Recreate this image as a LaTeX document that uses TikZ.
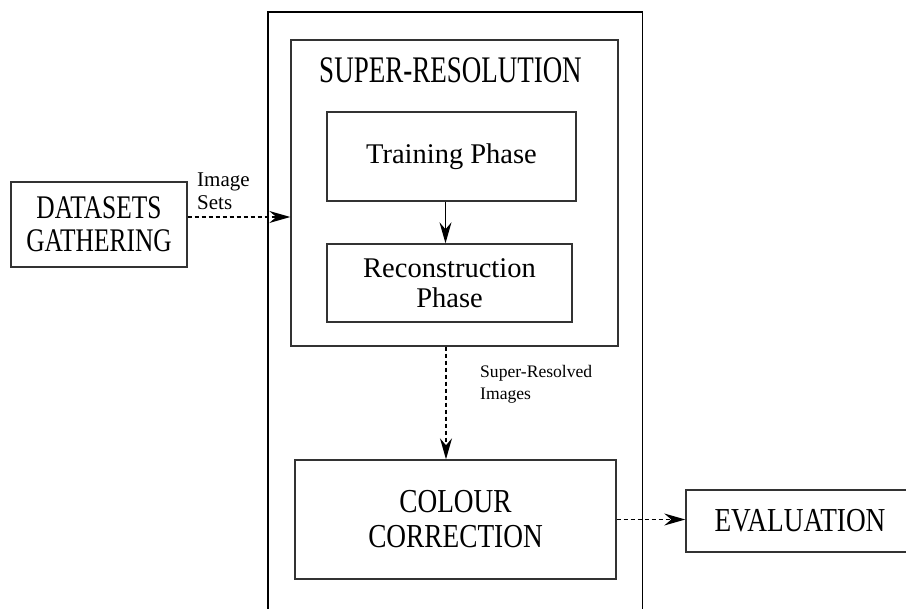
\documentclass[tikz,border=0pt]{standalone}
\usepackage{fontspec}
\setmainfont{Liberation Serif}
\newfontfamily\capsfontA[FakeStretch=0.72]{Liberation Serif}
\newfontfamily\capsfontB[FakeStretch=0.77]{Liberation Serif}
\newfontfamily\capsfontC[FakeStretch=0.815]{Liberation Serif}
\usetikzlibrary{arrows.meta}
\tikzset{
  box/.style={draw=black!80, line width=1.4pt, inner sep=0pt, align=center},
  phasetext/.style={font=\fontsize{28.5}{30}\selectfont},
  lbl/.style={inner sep=0pt, align=left, anchor=base west},
  tip/.style={-{Stealth[length=21pt,width=12pt,inset=7pt]}},
  dasharrow/.style={tip, line width=1.3pt, dash pattern=on 4pt off 3pt},
  solidarrow/.style={tip, line width=1.3pt}
}
\begin{document}
\begin{tikzpicture}[x=1pt,y=-1pt]
\useasboundingbox (0,0) rectangle (906,609);
% outer container (open at bottom, runs off the page)
\draw[line width=1.5pt, black] (268,614) -- (268,12) -- (642.5,12) -- (642.5,614);
% super-resolution container
\node[box, minimum width=327pt, minimum height=306pt] (sr) at (454.5,193) {};
\node[inner sep=0pt, anchor=base, font=\capsfontA\fontsize{37.5}{39}\selectfont] (srt) at (450.5,83) {SUPER-RESOLUTION};
\node[box, phasetext, minimum width=249pt, minimum height=89pt] (tp) at (451.5,156.5) {Training Phase};
\node[box, minimum width=245pt, minimum height=78pt, font=\fontsize{28.5}{30}\selectfont] (rp) at (449.5,283) {Reconstruction\\Phase};
\node[box, minimum width=176pt, minimum height=85pt, font=\capsfontB\fontsize{33}{33}\selectfont] (ds) at (99,224.5) {DATASETS\\GATHERING};
\node[box, minimum width=321pt, minimum height=119pt, font=\capsfontC\fontsize{33.5}{35}\selectfont] (cc) at (455.5,519.5) {COLOUR\\CORRECTION};
\node[box, minimum width=228pt, minimum height=62pt, font=\capsfontC\fontsize{33.5}{35}\selectfont] (ev) at (800,521) {EVALUATION};
% connectors
\coordinate (dsa) at ([yshift=7.5pt]ds.east);
\draw[dasharrow] (dsa) -- (dsa -| sr.west);
\node[lbl, font=\fontsize{21}{23}\selectfont] (il) at (197,210) {Image\\Sets};
\coordinate (tpa) at ([xshift=-6pt]tp.south);
\draw[solidarrow] (tpa) -- (tpa |- rp.north);
\coordinate (sra) at ([xshift=-8.5pt]sr.south);
\draw[dasharrow] (sra) -- (sra |- cc.north);
\node[lbl, font=\fontsize{17.6}{22}\selectfont] (sl) at (480,400) {Super-Resolved\\Images};
\draw[dasharrow] (cc.east) -- (cc.east -| ev.west);
\end{tikzpicture}
\end{document}
